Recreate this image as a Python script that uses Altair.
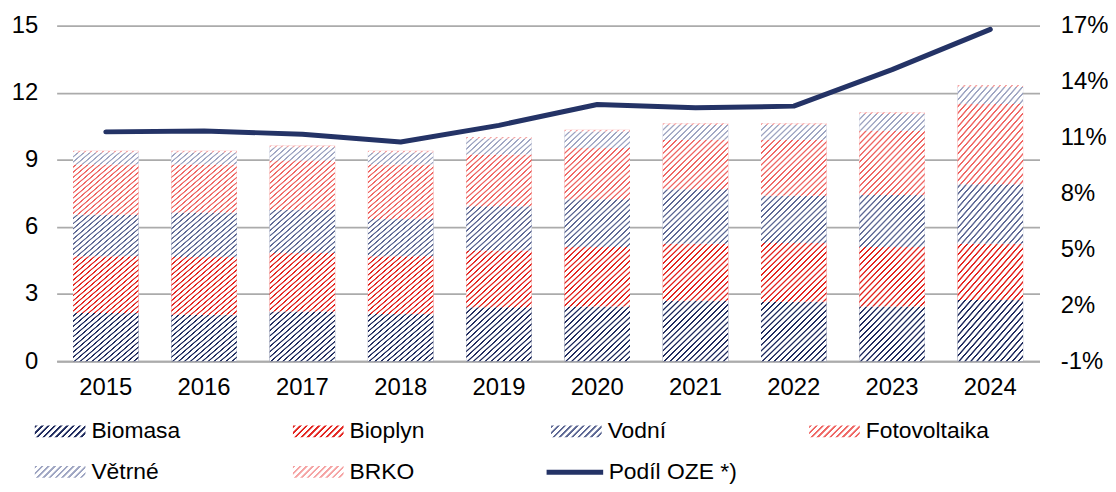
import altair as alt
import pandas as pd

# ---------------- data ----------------
years = ["2015", "2016", "2017", "2018", "2019", "2020", "2021", "2022", "2023", "2024"]
categories = ["Biomasa", "Bioplyn", "Vodní", "Fotovoltaika", "Větrné", "BRKO"]
biomasa = [2.15, 2.07, 2.22, 2.11, 2.41, 2.44, 2.70, 2.66, 2.44, 2.73]
bioplyn = [2.54, 2.59, 2.61, 2.58, 2.54, 2.66, 2.55, 2.62, 2.66, 2.52]
vodni = [1.86, 1.99, 1.94, 1.67, 1.97, 2.14, 2.44, 2.11, 2.33, 2.66]
fotovoltaika = [2.24, 2.14, 2.20, 2.43, 2.32, 2.29, 2.21, 2.51, 2.87, 3.59]
vetrne = [0.54, 0.54, 0.59, 0.54, 0.70, 0.74, 0.66, 0.66, 0.75, 0.76]
brko = [0.08, 0.08, 0.08, 0.08, 0.08, 0.08, 0.08, 0.08, 0.08, 0.08]
line_name = "Podíl OZE *)"
podil = [11.30, 11.35, 11.17, 10.76, 11.65, 12.77, 12.59, 12.68, 14.64, 16.80]

left_ticks = [0, 3, 6, 9, 12, 15]
right_ticks = [-1, 2, 5, 8, 11, 14, 17]

# ---------------- styles ----------------
FONT = "Liberation Sans"
FS = 24
FS_LEG = 23
ink = ["#1f2b5e", "#e3241f", "#5d6894", "#ef6663", "#9ea5c2", "#f5a3a3"]
line_color = "#243366"
grid_color = "#ababab"

series = [biomasa, bioplyn, vodni, fotovoltaika, vetrne, brko]
rows = []
for i, (cat, vals) in enumerate(zip(categories, series)):
    for y, v in zip(years, vals):
        rows.append({"year": y, "cat": cat, "value": v, "idx": i})
df = pd.DataFrame(rows)
line_df = pd.DataFrame({"year": years, "podil": podil, "series": [line_name] * len(years)})

PERIOD = 6.0   # hatch period in px (horizontal)


def stripe_stops(n, c_ink, c_gap, core=0.2, ramp=0.12):
    stops = []
    for k in range(n):
        a = k / n
        p = 1.0 / n
        pts = [(a, c_gap), (a + ramp * p, c_ink), (a + (ramp + core) * p, c_ink),
               (a + (2 * ramp + core) * p, c_gap), (a + p, c_gap)]
        for o, c in pts:
            stops.append((round(min(o, 1.0), 5), c))
    return stops


def vec(w, h):
    s = (w + h) / (w * w + h * h)
    return round(w * s, 4), round(h * s, 4), int(round((w + h) / PERIOD))


# white stripes laid over each whole bar (bar 66px wide, typical 245px tall)
ox2, oy2, on = vec(66, 245)
overlay_grad = {
    "gradient": "linear", "x1": 0, "y1": 0, "x2": ox2, "y2": oy2,
    "stops": [{"offset": o, "color": c} for o, c in stripe_stops(on, "rgba(255,255,255,0)", "#ffffff")],
}

# legend swatches 51 x 12 px
lx2, ly2, ln = vec(51, 12)


def legend_expr(color):
    st = ",".join("{'offset':%s,'color':'%s'}" % (o, c)
                  for o, c in stripe_stops(ln, color, "#ffffff", core=0.3, ramp=0.1))
    return "{'gradient':'linear','x1':0,'y1':0,'x2':%s,'y2':%s,'stops':[%s]}" % (lx2, ly2, st)


x_enc = alt.X(
    "year:O",
    sort=years,
    scale=alt.Scale(paddingInner=0.333, paddingOuter=0.1667),
    axis=alt.Axis(title=None, labelAngle=0, ticks=False, labelPadding=15, labelFontSize=FS,
                  labelColor="#000000", labelFont=FONT, domainColor=grid_color, domainWidth=2),
)

y_scale = alt.Scale(domain=[0, 15], nice=False, zero=True)
y_axis = alt.Axis(title=None, values=left_ticks, grid=True, gridColor=grid_color, gridWidth=1.6,
                  domain=False, ticks=False, labelPadding=19, labelFontSize=FS,
                  labelColor="#000000", labelFont=FONT)

bars = alt.Chart(df).mark_bar().encode(
    x=x_enc,
    y=alt.Y("value:Q", scale=y_scale, axis=y_axis),
    color=alt.Color("idx:N", scale=alt.Scale(domain=list(range(len(categories))), range=ink), legend=None),
    order=alt.Order("idx:Q", sort="ascending"),
)

overlay = alt.Chart(df).mark_bar(fill=overlay_grad, strokeWidth=0).encode(
    x=alt.X("year:O", sort=years),
    y=alt.Y("sum(value):Q", scale=y_scale, axis=y_axis),
)

# zero-height bars that only carry the hatched legend
legend_layer = alt.Chart(df).mark_bar().encode(
    x=alt.X("year:O", sort=years),
    y=alt.value(338),
    y2=alt.value(338),
    fill=alt.Fill(
        "cat:N",
        scale=alt.Scale(domain=categories, range=[alt.ExprRef(expr=legend_expr(c)) for c in ink]),
        legend=alt.Legend(
            title=None, orient="none", direction="horizontal", legendX=-22, legendY=397, columns=4,
            gridAlign="all", columnPadding=78, rowPadding=17, padding=0,
            symbolType="M-1,-0.522L3.435,-0.522L3.435,0.522L-1,0.522Z", symbolSize=529,
            symbolStrokeWidth=0, labelOffset=34, labelFontSize=FS_LEG, labelFont=FONT,
            labelColor="#000000", labelLimit=400,
        ),
    ),
)

line = alt.Chart(line_df).mark_line(strokeWidth=5, strokeCap="round", strokeJoin="round").encode(
    x=alt.X("year:O", sort=years),
    y=alt.Y("podil:Q", scale=alt.Scale(domain=[-1, 17], nice=False, zero=False),
            axis=alt.Axis(title=None, orient="right", values=right_ticks, grid=False, domain=False,
                          ticks=False, labelPadding=21, labelFontSize=FS, labelColor="#000000",
                          labelFont=FONT, labelExpr="datum.value + '%'")),
    stroke=alt.Stroke("series:N", scale=alt.Scale(domain=[line_name], range=[line_color]),
                      legend=alt.Legend(title=None, orient="none", legendX=491, legendY=419, padding=0,
                                        symbolType="stroke", symbolSize=3249, symbolStrokeWidth=5,
                                        symbolStrokeColor=line_color, labelOffset=3, labelFontSize=FS_LEG,
                                        labelFont=FONT, labelColor="#000000", labelLimit=400)),
)

left_part = alt.layer(bars, overlay, legend_layer)

chart = (
    alt.layer(left_part, line)
    .resolve_scale(y="independent")
    .properties(
        width=990, height=338,
        autosize=alt.AutoSizeParams(type="none"),
        padding={"left": 49, "top": 16, "right": 69, "bottom": 122},
    )
    .configure(font=FONT)
    .configure_view(strokeWidth=0)
)

chart.save("out.html", embed_options={"renderer": "svg", "actions": False})
